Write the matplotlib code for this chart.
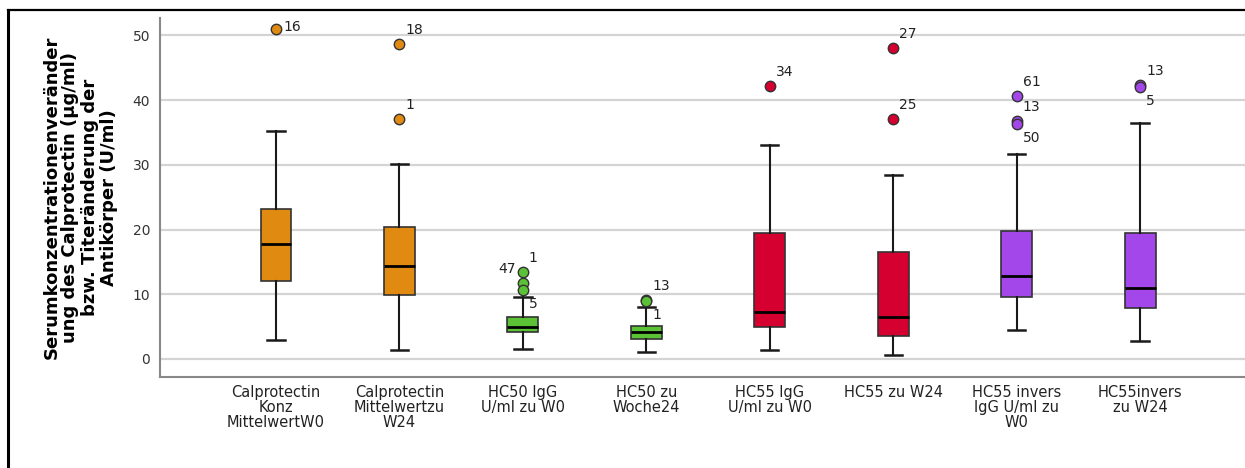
import numpy as np
import matplotlib
matplotlib.use("Agg")
import matplotlib.pyplot as plt
from matplotlib.lines import Line2D

# categories along the x axis
categories = [
    "Calprotectin\nKonz\nMittelwertW0",
    "Calprotectin\nMittelwertzu\nW24",
    "HC50 IgG\nU/ml zu W0",
    "HC50 zu\nWoche24",
    "HC55 IgG\nU/ml zu W0",
    "HC55 zu W24",
    "HC55 invers\nIgG U/ml zu\nW0",
    "HC55invers\nzu W24",
]

# box statistics (whisker low, Q1, median, Q3, whisker high)
whislo = [2.9, 1.3, 1.5, 1.0, 1.3, 0.6, 4.4, 2.7]
q1 = [12.0, 9.85, 4.2, 3.1, 4.9, 3.6, 9.5, 7.9]
med = [17.7, 14.3, 5.0, 4.1, 7.2, 6.4, 12.8, 10.9]
q3 = [23.2, 20.4, 6.5, 5.1, 19.4, 16.6, 19.8, 19.5]
whishi = [35.3, 30.2, 9.5, 8.0, 33.1, 28.4, 31.7, 36.4]

# outliers and their case numbers
outliers = [
    [51.0],
    [48.7, 37.1],
    [13.5, 11.8, 10.7],
    [9.1, 9.0],
    [42.2],
    [48.1, 37.1],
    [40.6, 36.8, 36.3],
    [42.4, 42.0],
]
outlier_ids = [
    ["16"],
    ["18", "1"],
    ["1", None, "5"],
    ["13", "1"],
    ["34"],
    ["27", "25"],
    ["61", "13", "50"],
    ["13", "5"],
]
# extra label drawn left of a point: (box, point index, text)
left_ids = [(2, 0, "47")]

colors = ["#E08A12", "#E08A12", "#5BC236", "#5BC236",
          "#D5002F", "#D5002F", "#A447EA", "#A447EA"]

ylabel = ("Serumkonzentrationenveränder\nung des Calprotectin (µg/ml)\n"
          "bzw. Titeränderung der\nAntikörper (U/ml)")

fig = plt.figure(figsize=(12.45, 4.68), dpi=100)
ax = fig.add_axes([160 / 1245, 1 - 377 / 468, 1 - 160 / 1245, (377 - 18) / 468])

pos = np.arange(len(categories))
stats = []
for i in range(len(categories)):
    stats.append(dict(med=med[i], q1=q1[i], q3=q3[i],
                      whislo=whislo[i], whishi=whishi[i], fliers=outliers[i]))

bp = ax.bxp(stats, positions=pos, widths=0.25, capwidths=0.14,
            patch_artist=True, showfliers=True,
            boxprops=dict(edgecolor="#333333", linewidth=1.2),
            medianprops=dict(color="black", linewidth=2.0),
            whiskerprops=dict(color="#1a1a1a", linewidth=1.5),
            capprops=dict(color="#1a1a1a", linewidth=1.8),
            flierprops=dict(marker="o", markersize=7.5,
                            markeredgecolor="#333333", markeredgewidth=1.0))

for patch, fl, c in zip(bp["boxes"], bp["fliers"], colors):
    patch.set_facecolor(c)
    fl.set_markerfacecolor(c)
    patch.set_zorder(2)

# case number labels next to the outliers
for i, (vals, ids) in enumerate(zip(outliers, outlier_ids)):
    for j, (v, t) in enumerate(zip(vals, ids)):
        if t is None:
            continue
        if i == 0:
            off = (7, 2)
        elif j > 0 and vals[j - 1] - v < 1.5:
            off = (6, -14)
        else:
            off = (6, 14)
        ax.annotate(t, (pos[i], v), xytext=off, textcoords="offset pixels",
                    ha="left", va="center", fontsize=10, color="#222222")
for i, j, t in left_ids:
    ax.annotate(t, (pos[i], outliers[i][j]), xytext=(-7, 3),
                textcoords="offset pixels", ha="right", va="center",
                fontsize=10, color="#222222")

ax.set_xlim(-0.94, 7.85)
ax.set_ylim(-2.8, 52.7)
ax.set_yticks([0, 10, 20, 30, 40, 50])
ax.set_xticks(pos)
ax.set_xticklabels(categories, fontsize=10.5, linespacing=1.0, color="#222222")
ax.tick_params(axis="x", length=0, pad=6)
ax.tick_params(axis="y", length=0, pad=7, labelsize=10, labelcolor="#333333")

ax.yaxis.grid(True, color="#d4d4d4", linewidth=1.6)
ax.set_axisbelow(True)
for s in ["top", "right"]:
    ax.spines[s].set_visible(False)
for s in ["left", "bottom"]:
    ax.spines[s].set_color("#888888")
    ax.spines[s].set_linewidth(1.5)

ax.set_ylabel(ylabel, fontsize=13, fontweight="bold", linespacing=1.08,
              ha="center", va="center", multialignment="center")
ax.yaxis.set_label_coords(-0.0737, 0.5)

# black frame around the output panel (top and left only)
fig.add_artist(Line2D([8 / 1245, 1], [1 - 10 / 468, 1 - 10 / 468],
                      transform=fig.transFigure, color="black", linewidth=1.6))
fig.add_artist(Line2D([8 / 1245, 8 / 1245], [0, 1 - 10 / 468],
                      transform=fig.transFigure, color="black", linewidth=2.2))

fig.savefig("out.png", dpi=100)
